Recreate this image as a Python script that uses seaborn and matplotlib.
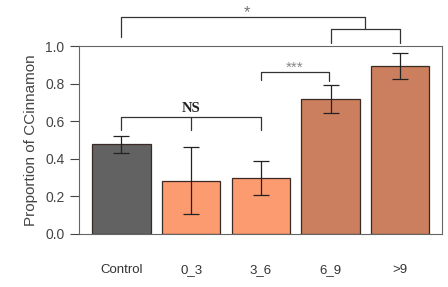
import matplotlib
matplotlib.use("Agg")
import matplotlib.pyplot as plt
import seaborn as sns
import numpy as np

# -- data
groups = ["Control", "0_3", "3_6", "6_9", ">9"]
proportion = [0.477, 0.284, 0.300, 0.716, 0.894]
err_low = [0.432, 0.105, 0.206, 0.642, 0.826]
err_high = [0.521, 0.461, 0.388, 0.793, 0.961]
bar_colors = ["#626262", "#FC9A70", "#FC9A70", "#CC7F5E", "#CC7F5E"]
y_ticks = [0.0, 0.2, 0.4, 0.6, 0.8, 1.0]

sns.set_style("white")
plt.rcParams["font.family"] = ["Liberation Sans", "DejaVu Sans"]

fig = plt.figure(figsize=(4.48, 2.87), dpi=100)
ax = fig.add_axes([0.1763, 0.1847, 0.8103, 0.655])

sns.barplot(x=groups, y=proportion, hue=groups, palette=bar_colors,
            width=0.84, edgecolor="#3a2a25", linewidth=0.9,
            saturation=1, legend=False, ax=ax)

xs = np.arange(len(groups))
vals = np.array(proportion)
yerr = [vals - np.array(err_low), np.array(err_high) - vals]
ax.errorbar(xs, vals, yerr=yerr, fmt="none", ecolor="#222222",
            elinewidth=0.9, capsize=5.8, capthick=0.9)

ax.set_xlim(-0.61, 4.6)
ax.set_ylim(0, 1.0)
ax.set_yticks(y_ticks)
ax.set_yticklabels([f"{t:.1f}" for t in y_ticks], fontsize=10, color="#444444")
ax.tick_params(axis="y", which="both", left=True, length=6.5, width=0.8,
               color="#444444", pad=4)
ax.tick_params(axis="x", bottom=False, labelsize=9.5, labelcolor="#333333", pad=18)
ax.set_xlabel("")
ax.set_ylabel("Proportion of CCinnamon", fontsize=11, color="#444444", labelpad=5)
for s in ax.spines.values():
    s.set_visible(True)
    s.set_color("#666666")
    s.set_linewidth(0.8)

# -- significance brackets
lc = "#333333"
kw = dict(color=lc, lw=0.9, clip_on=False)
# main bracket: Control vs (6_9, >9)
ax.plot([0, 0, 3.5, 3.5], [1.048, 1.154, 1.154, 1.09], **kw)
ax.plot([3, 3, 4, 4], [1.016, 1.09, 1.09, 1.016], **kw)
ax.text(1.8, 1.18, "*", ha="center", va="center", fontsize=12, color="#777777")
# 3_6 vs 6_9
ax.plot([2, 2, 2.98, 2.98], [0.819, 0.862, 0.862, 0.814], **kw)
ax.text(2.49, 0.885, "***", ha="center", va="center", fontsize=11, color="#888888")
# NS: Control, 0_3, 3_6
ax.plot([0, 0, 2, 2], [0.553, 0.620, 0.620, 0.553], **kw)
ax.plot([1, 1], [0.620, 0.553], **kw)
ax.text(1.0, 0.665, "NS", ha="center", va="center", fontsize=10.5,
        fontweight="bold", family=["Liberation Serif", "DejaVu Serif"], color="#222222")

fig.savefig("out.png", dpi=100)
